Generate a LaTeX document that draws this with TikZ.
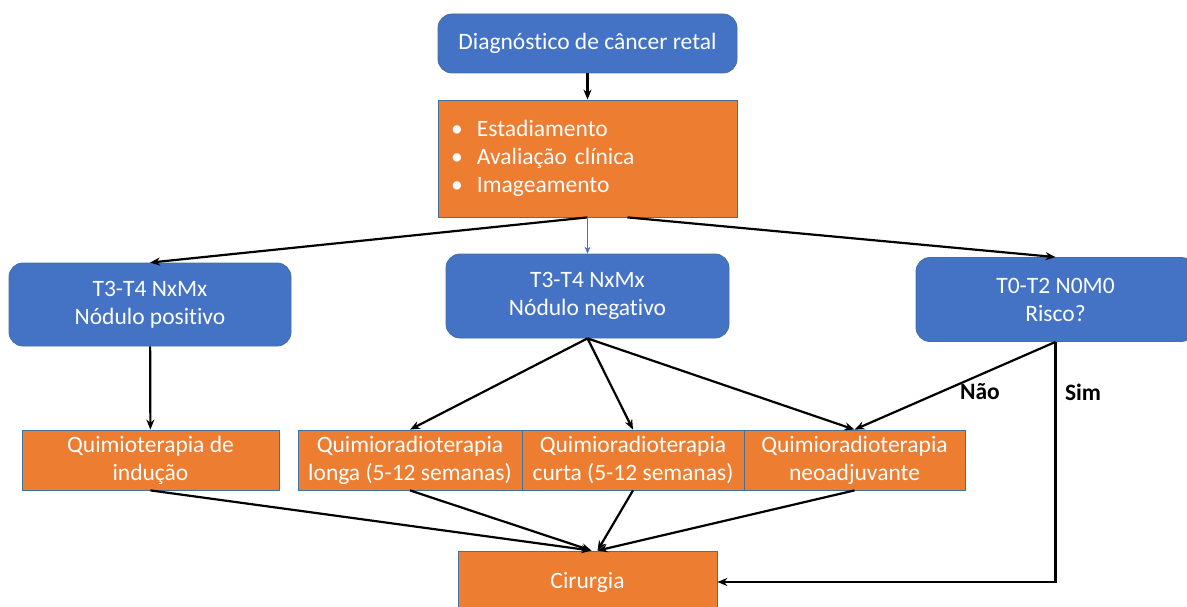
\documentclass[tikz,border=0pt]{standalone}
\usepackage{fontspec}
\setmainfont{Carlito}[Ligatures=NoCommon]
\usepackage{tikz}
\usetikzlibrary{positioning, arrows.meta}
\definecolor{diagblue}{HTML}{4472C4}
\definecolor{diagorange}{HTML}{ED7D31}
\definecolor{edgeblue}{HTML}{41719C}
\tikzset{
	>={Stealth[length=10pt,width=8pt]}, % arrow heads
	every node/.style={font=\fontsize{23.5}{28}\selectfont}, % text size of all boxes
	bluestep/.style={draw=edgeblue, line width=0.8pt, fill=diagblue, text=white, rounded corners=14pt, align=center, inner sep=0pt},
	orangestep/.style={draw=edgeblue, line width=0.8pt, fill=diagorange, text=white, align=center, inner sep=0pt},
	flow/.style={->, line width=2.2pt},
	answer/.style={font=\fontsize{23.5}{28}\selectfont\bfseries},
}
\newcommand{\itemdot}{\makebox[26pt][l]{\textbullet}}

\begin{document}
\begin{tikzpicture}[x=1pt, y=-1pt]
		\useasboundingbox (0,0) rectangle (1187,607);
		% Define the boxes
		\node[bluestep, minimum width=299pt, minimum height=59pt] (diag) at (587.5,43.5) {Diagnóstico de câncer retal};
		\node[orangestep, minimum width=299pt, minimum height=117pt, text width=273pt, align=left] (aval) at (587.5,158.5)
			{\itemdot Estadiamento\\\itemdot Avaliação clínica\\\itemdot Imageamento};
		\node[bluestep, minimum width=282pt, minimum height=83pt] (pos) at (150,304.5) {T3-T4 NxMx\\Nódulo positivo};
		\node[bluestep, minimum width=283pt, minimum height=84pt] (neg) at (587.5,296) {T3-T4 NxMx\\Nódulo negativo};
		\node[bluestep, minimum width=279pt, minimum height=84pt] (risco) at (1055.5,299.5) {T0-T2 N0M0\\Risco?};
		\node[orangestep, minimum width=257pt, minimum height=60pt] (ind) at (150.5,460) {Quimioterapia de\\indução};
		\node[orangestep, minimum width=224pt, minimum height=60pt] (longa) at (410,460) {Quimioradioterapia\\longa (5-12 semanas)};
		\node[orangestep, minimum width=222pt, minimum height=60pt] (curta) at (633,460) {Quimioradioterapia\\curta (5-12 semanas)};
		\node[orangestep, minimum width=221pt, minimum height=60pt] (neo) at (854.5,460) {Quimioradioterapia\\neoadjuvante};
		\node[orangestep, minimum width=259pt, minimum height=62pt] (cir) at (587.5,582) {Cirurgia};
		\node[answer] (nao) at (980,392) {Não};
		\node[answer] (sim) at (1083,392) {Sim};

		% Transitions
		\draw[flow] (diag) -- (aval);
		\draw[flow] (aval.south) -- (pos.north);
		\draw[->, diagblue, line width=1pt, >={Stealth[length=7pt,width=6pt]}] (aval) -- (neg);
		\draw[flow] ([xshift=40pt]aval.south) -- (risco.north);
		\draw[flow] (pos) -- (ind);
		\draw[flow] (neg.south) -- (longa.north);
		\draw[flow] (neg.south) -- (curta.north);
		\draw[flow] (neg.south) -- (neo.north);
		\draw[flow] (risco.south) -- (neo.north);
		\draw[flow] (risco.south) |- (cir.east);
		\draw[flow] (ind.south) -- ([xshift=4pt]cir.north);
		\draw[flow] (longa.south) -- ([xshift=4pt]cir.north);
		\draw[flow] (curta.south) -- ([xshift=10pt]cir.north);
		\draw[flow] (neo.south) -- ([xshift=10pt]cir.north);
	\end{tikzpicture}
\end{document}
